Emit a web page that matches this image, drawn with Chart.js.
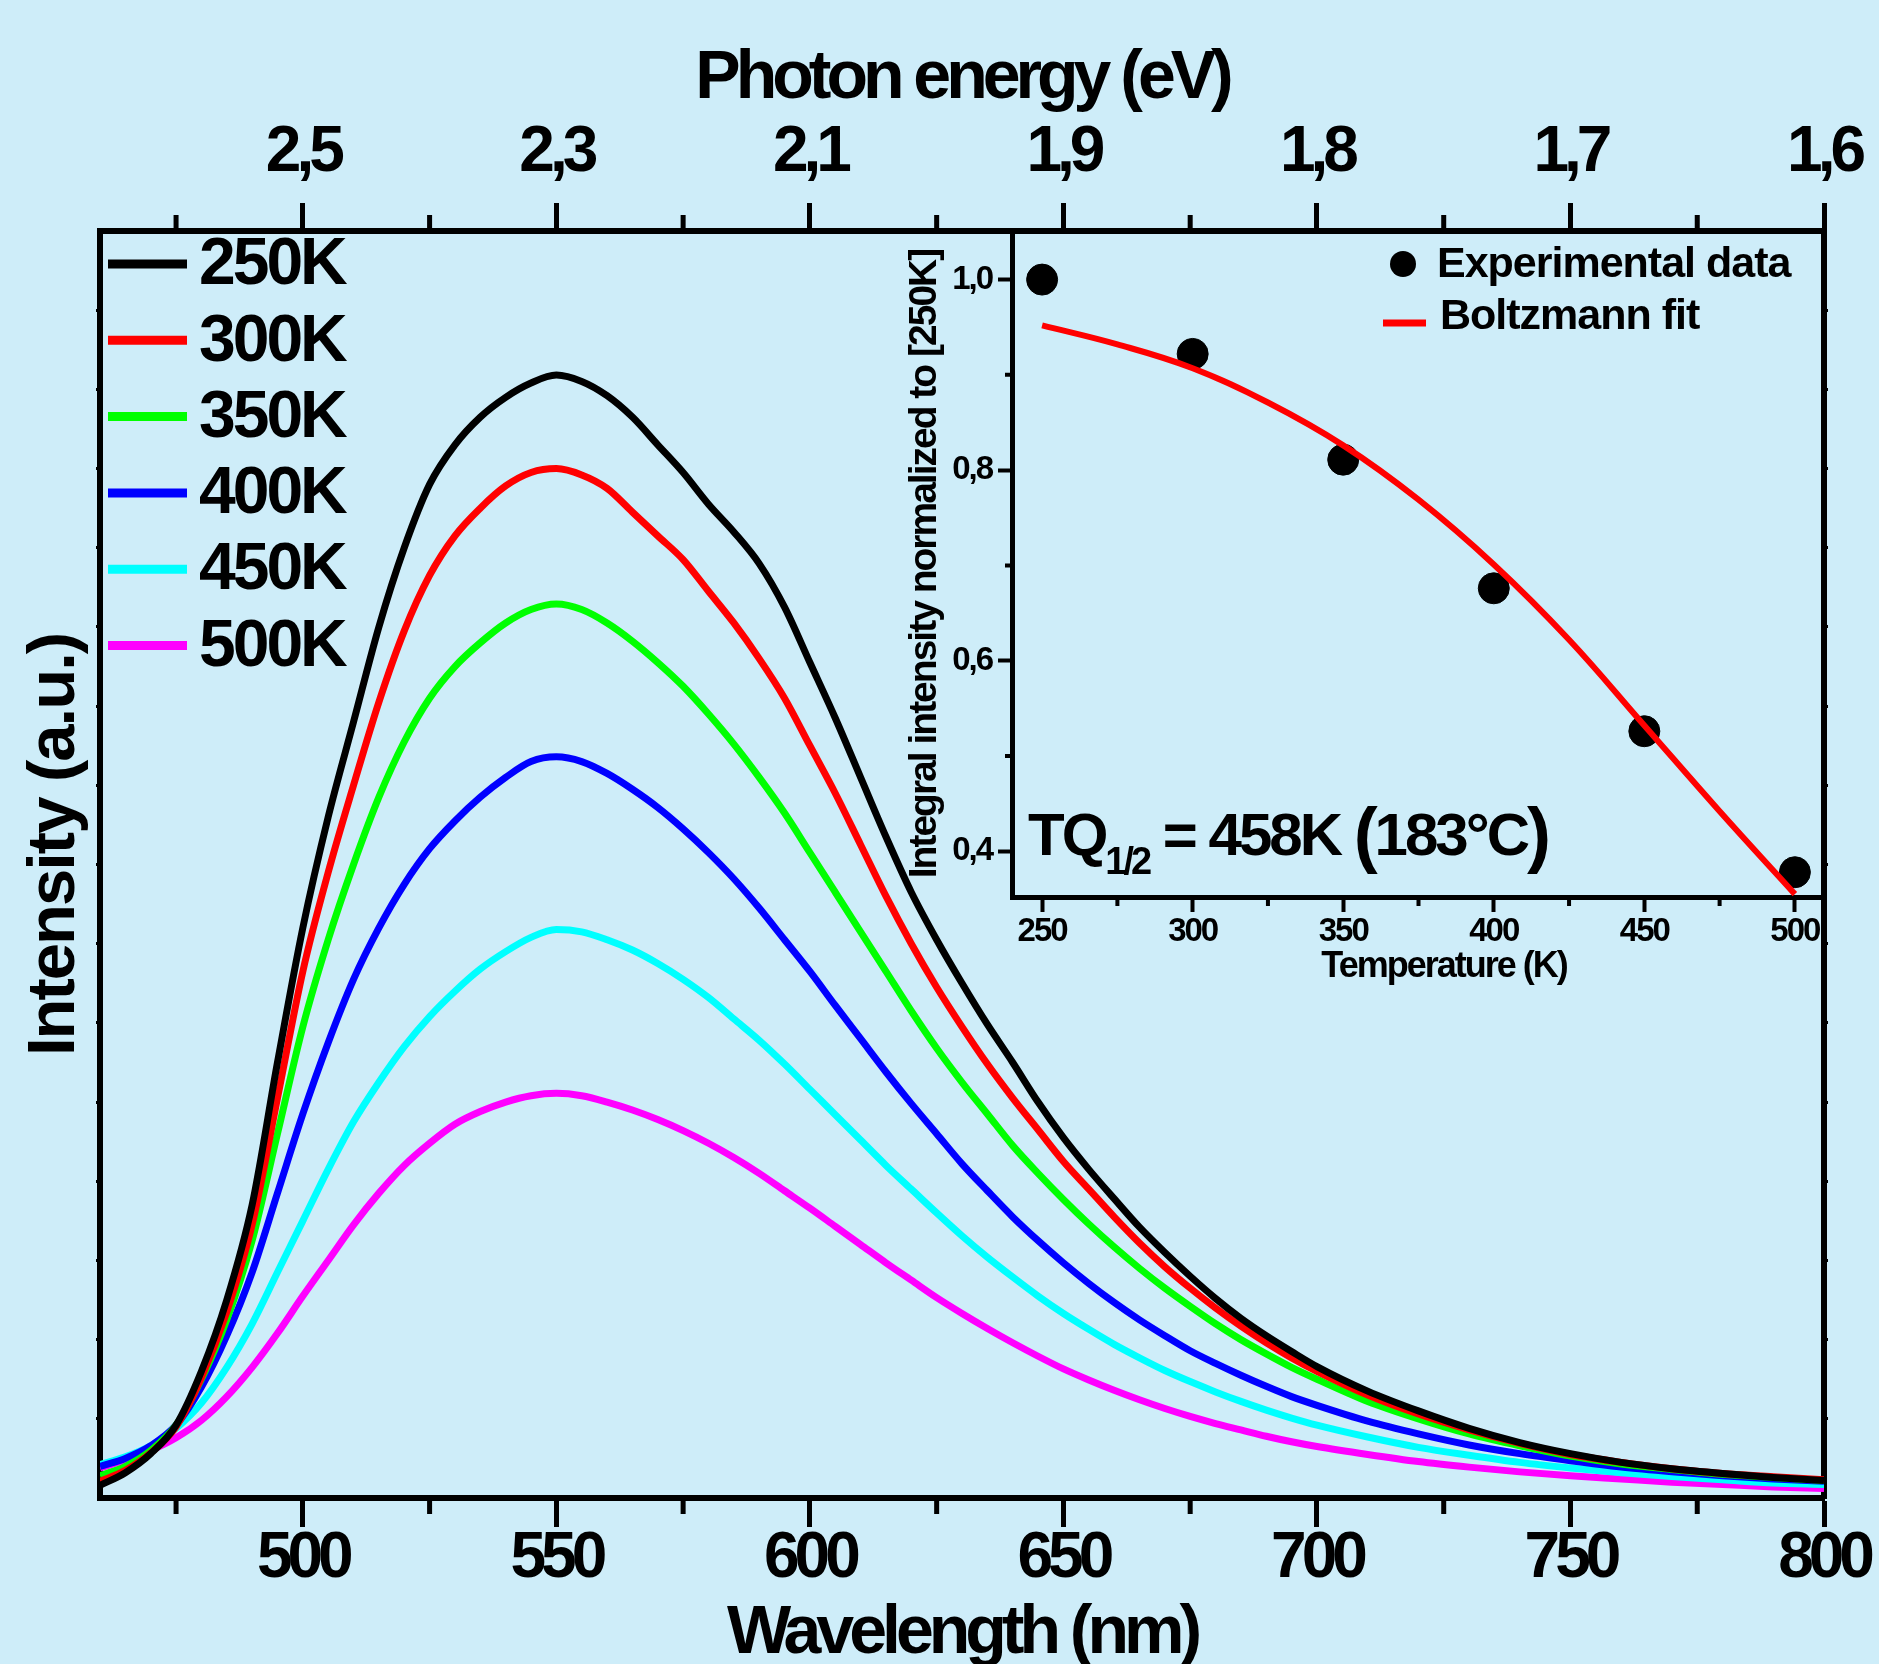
<!DOCTYPE html>
<html>
<head>
<meta charset="utf-8">
<script src="https://cdn.jsdelivr.net/npm/chart.js@4.4.1/dist/chart.umd.min.js"></script>
<style>
  body { margin: 0; background: #ceedf9; }
  #wrap { position: relative; width: 1879px; height: 1664px; }
  #main { position: absolute; left: 0; top: 0; }
  #inset { position: absolute; left: 880px; top: 200px; }
</style>
</head>
<body>
<div id="wrap">
  <canvas id="main" width="1879" height="1664"></canvas>
  <canvas id="inset" width="999" height="830"></canvas>
</div>
<script>
// wavelength grid (nm) of the spectra
const wavelengths = [460,465,470,475,480,485,490,495,500,505,510,515,520,525,530,535,540,545,550,
  555,560,565,570,575,580,585,590,595,600,605,610,615,620,625,630,635,640,645,650,
  655,660,665,670,675,680,685,690,695,700,710,720,730,740,750,760,770,780,790,800];

// intensity (a.u.) per temperature
const int250K = [0.16,0.32,0.56,0.92,1.60,2.50,3.70,5.50,7.20,
  8.60,9.80,11.00,12.00,12.80,13.30,13.65,13.90,14.08,14.18,
  14.10,13.92,13.65,13.30,12.95,12.55,12.20,11.80,11.25,10.55,
  9.85,9.10,8.35,7.65,7.05,6.50,5.98,5.50,5.00,4.55,
  4.15,3.78,3.42,3.10,2.80,2.52,2.27,2.05,1.85,1.66,
  1.35,1.10,0.88,0.70,0.56,0.45,0.37,0.31,0.26,0.22];
const int300K = [0.21,0.35,0.57,0.90,1.52,2.35,3.45,5.05,6.65,
  7.90,9.00,10.05,10.95,11.65,12.15,12.50,12.78,12.95,13.00,
  12.92,12.75,12.45,12.15,11.85,11.45,11.05,10.60,10.10,9.50,
  8.90,8.25,7.60,7.00,6.45,5.95,5.48,5.05,4.65,4.25,
  3.90,3.55,3.22,2.92,2.65,2.40,2.17,1.96,1.77,1.60,
  1.30,1.06,0.86,0.69,0.55,0.45,0.37,0.31,0.27,0.23];
const int350K = [0.28,0.40,0.60,0.92,1.50,2.25,3.25,4.60,5.95,
  7.05,8.00,8.85,9.55,10.10,10.50,10.80,11.05,11.22,11.29,
  11.22,11.05,10.82,10.55,10.25,9.90,9.52,9.10,8.65,8.15,
  7.65,7.15,6.65,6.15,5.68,5.25,4.85,4.45,4.10,3.77,
  3.46,3.17,2.90,2.65,2.42,2.20,2.00,1.82,1.65,1.50,
  1.22,1.00,0.81,0.66,0.53,0.43,0.36,0.30,0.26,0.22];
const int400K = [0.40,0.50,0.66,0.92,1.40,2.05,2.85,3.85,4.85,
  5.75,6.55,7.20,7.75,8.20,8.55,8.85,9.10,9.30,9.36,
  9.30,9.15,8.95,8.72,8.45,8.15,7.82,7.45,7.05,6.65,
  6.22,5.80,5.38,4.98,4.60,4.22,3.88,3.55,3.25,2.97,
  2.71,2.47,2.25,2.05,1.86,1.70,1.55,1.41,1.28,1.17,
  0.97,0.81,0.67,0.56,0.47,0.39,0.33,0.28,0.24,0.21];
const int450K = [0.42,0.52,0.66,0.88,1.20,1.65,2.20,2.85,3.50,
  4.15,4.75,5.25,5.70,6.08,6.40,6.68,6.90,7.08,7.18,
  7.15,7.05,6.92,6.75,6.55,6.32,6.05,5.78,5.48,5.16,
  4.84,4.52,4.20,3.90,3.60,3.31,3.04,2.79,2.55,2.33,
  2.13,1.94,1.77,1.61,1.47,1.34,1.22,1.11,1.01,0.92,
  0.77,0.64,0.54,0.45,0.38,0.32,0.27,0.23,0.19,0.17];
const int500K = [0.38,0.48,0.60,0.76,0.98,1.28,1.65,2.08,2.55,
  3.00,3.45,3.85,4.20,4.48,4.72,4.88,5.00,5.08,5.11,
  5.08,5.00,4.90,4.78,4.64,4.48,4.30,4.10,3.88,3.66,
  3.43,3.20,2.97,2.75,2.53,2.33,2.14,1.96,1.79,1.63,
  1.49,1.36,1.24,1.13,1.03,0.94,0.86,0.78,0.71,0.65,
  0.55,0.46,0.39,0.33,0.28,0.24,0.20,0.17,0.14,0.12];

const seriesLabels = ['250K', '300K', '350K', '400K', '450K', '500K'];
const seriesValues = [int250K, int300K, int350K, int400K, int450K, int500K];
const seriesColors = ['#000000', '#ff0000', '#00ff00', '#0000ff', '#00ffff', '#ff00ff'];

// axis ticks
const wlMajorTicks = [500, 550, 600, 650, 700, 750, 800];
const wlMinorTicks = [475, 525, 575, 625, 675, 725, 775];
const energyTickLabels = ['2,5', '2,3', '2,1', '1,9', '1,8', '1,7', '1,6'];
const intensityTicks = [1, 2, 3, 4, 5, 6, 7, 8, 9, 10, 11, 12, 13, 14, 15];

// inset: thermal quenching
const temperatures = [250, 300, 350, 400, 450, 500];
const normIntensity = [1.000, 0.922, 0.811, 0.676, 0.526, 0.378];
const fitTemperatures = [250, 275, 300, 325, 350, 375, 400, 425, 450, 475, 500];
const fitIntensity = [0.952, 0.932, 0.907, 0.871, 0.826, 0.769, 0.701, 0.622, 0.532, 0.442, 0.355];
const tempMajorTicks = [250, 300, 350, 400, 450, 500];
const tempMinorTicks = [275, 325, 375, 425, 475];
const normMajorTicks = [0.4, 0.6, 0.8, 1.0];
const normMinorTicks = [0.5, 0.7, 0.9];

const SANS = '"Liberation Sans", Arial, sans-serif';

function setTicks(values) {
  return scale => { scale.ticks = values.map(v => ({ value: v })); };
}
function commaLabel(v) {
  return v.toFixed(1).replace('.', ',');
}
// condensed look: tighten all text the chart draws
function tightText(spacing) {
  return {
    id: 'tightText',
    beforeLayout(chart) { chart.ctx.letterSpacing = spacing; },
    beforeDraw(chart) { chart.ctx.letterSpacing = spacing; }
  };
}

// minor tick marks drawn from the scales' own pixel mapping
function drawMinor(ctx, scale, values, len, width) {
  ctx.save();
  ctx.strokeStyle = '#000';
  ctx.lineWidth = width;
  ctx.beginPath();
  values.forEach(v => {
    if (scale.isHorizontal()) {
      const px = scale.getPixelForValue(v);
      if (scale.position === 'bottom') { ctx.moveTo(px, scale.top); ctx.lineTo(px, scale.top + len); }
      else { ctx.moveTo(px, scale.bottom); ctx.lineTo(px, scale.bottom - len); }
    } else {
      const py = scale.getPixelForValue(v);
      ctx.moveTo(scale.right, py); ctx.lineTo(scale.right - len, py);
    }
  });
  ctx.stroke();
  ctx.restore();
}

const mainDecor = {
  id: 'mainDecor',
  afterDraw(chart) {
    const ctx = chart.ctx;
    drawMinor(ctx, chart.scales.x, wlMinorTicks, 16, 5);
    drawMinor(ctx, chart.scales.x2, wlMinorTicks, 16, 5);
    ctx.save();
    ctx.fillStyle = '#000';
    // y axis title
    ctx.save();
    ctx.font = 'bold 67px ' + SANS;
    ctx.letterSpacing = '-2px';
    ctx.textAlign = 'center';
    ctx.textBaseline = 'alphabetic';
    ctx.translate(74, 845);
    ctx.rotate(-Math.PI / 2);
    ctx.fillText('Intensity (a.u.)', 0, 0);
    ctx.restore();
    // legend
    ctx.font = 'bold 66px ' + SANS;
    ctx.letterSpacing = '-3px';
    ctx.textBaseline = 'middle';
    ctx.textAlign = 'left';
    seriesLabels.forEach((lab, i) => {
      const y = 264 + i * 76.3;
      ctx.strokeStyle = seriesColors[i];
      ctx.lineWidth = 9;
      ctx.beginPath();
      ctx.moveTo(108, y);
      ctx.lineTo(187, y);
      ctx.stroke();
      ctx.fillText(lab, 199, y + 2);
    });
    ctx.restore();
  }
};

const tickFont = { family: SANS, weight: 'bold', size: 64, lineHeight: 1 };
const titleFont = { family: SANS, weight: 'bold', size: 68, lineHeight: 1 };

new Chart(document.getElementById('main'), {
  type: 'line',
  data: {
    datasets: seriesValues.map((vals, i) => ({
      label: seriesLabels[i],
      data: wavelengths.map((w, j) => ({ x: w, y: vals[j] })),
      borderColor: seriesColors[i],
      backgroundColor: seriesColors[i],
      borderWidth: 7,
      pointRadius: 0,
      cubicInterpolationMode: 'monotone',
      borderJoinStyle: 'round',
      fill: false
    }))
  },
  options: {
    responsive: false,
    animation: false,
    devicePixelRatio: 1,
    layout: { padding: 0 },
    plugins: { legend: { display: false }, tooltip: { enabled: false } },
    scales: {
      x: {
        type: 'linear', position: 'bottom', min: 460, max: 800,
        afterBuildTicks: setTicks(wlMajorTicks),
        afterFit: s => { s.height = 166; },
        border: { display: true, width: 6, color: '#000' },
        grid: { display: true, drawOnChartArea: false, tickLength: 29, tickWidth: 5, tickColor: '#000' },
        ticks: { color: '#000', font: tickFont, padding: 0, maxRotation: 0, autoSkip: false },
        title: { display: true, text: 'Wavelength (nm)', color: '#000', font: titleFont, padding: { top: 0, bottom: -4 } }
      },
      x2: {
        type: 'linear', position: 'top', min: 460, max: 800,
        afterBuildTicks: setTicks(wlMajorTicks),
        afterFit: s => { s.height = 231; },
        border: { display: true, width: 6, color: '#000' },
        grid: { display: true, drawOnChartArea: false, tickLength: 28, tickWidth: 5, tickColor: '#000' },
        ticks: {
          color: '#000', font: tickFont, padding: 18, maxRotation: 0, autoSkip: false,
          callback: v => energyTickLabels[wlMajorTicks.indexOf(v)]
        },
        title: { display: true, text: 'Photon energy (eV)', color: '#000', font: titleFont, padding: { top: 45, bottom: 0 } }
      },
      y: {
        type: 'linear', position: 'left', min: 0, max: 16,
        afterBuildTicks: setTicks(intensityTicks),
        afterFit: s => { s.width = 100; },
        border: { display: true, width: 6, color: '#000' },
        grid: { display: true, drawOnChartArea: false, tickLength: 4, tickWidth: 3, tickColor: '#000' },
        ticks: { display: false }
      },
      y2: {
        type: 'linear', position: 'right', min: 0, max: 16,
        afterBuildTicks: setTicks(intensityTicks),
        afterFit: s => { s.width = 54; },
        border: { display: true, width: 6, color: '#000' },
        grid: { display: true, drawOnChartArea: false, tickLength: 4, tickWidth: 3, tickColor: '#000' },
        ticks: { display: false }
      }
    }
  },
  plugins: [tightText('-5px'), mainDecor]
});

// ---------- inset ----------
const insetDecor = {
  id: 'insetDecor',
  afterDraw(chart) {
    const ctx = chart.ctx;
    drawMinor(ctx, chart.scales.x, tempMinorTicks, 9, 4);
    drawMinor(ctx, chart.scales.y, normMinorTicks, 7, 4);
    ctx.save();
    ctx.fillStyle = '#000';
    // x axis title
    ctx.font = 'bold 36px ' + SANS;
    ctx.letterSpacing = '-2px';
    ctx.textAlign = 'center';
    ctx.textBaseline = 'alphabetic';
    ctx.fillText('Temperature (K)', 564, 777);
    // legend
    ctx.textAlign = 'left';
    ctx.textBaseline = 'middle';
    ctx.font = 'bold 43px ' + SANS;
    ctx.letterSpacing = '-1px';
    ctx.beginPath();
    ctx.arc(523, 64, 13, 0, Math.PI * 2);
    ctx.fill();
    ctx.fillText('Experimental data', 557, 65);
    ctx.strokeStyle = '#ff0000';
    ctx.lineWidth = 7;
    ctx.beginPath();
    ctx.moveTo(503, 123);
    ctx.lineTo(546, 123);
    ctx.stroke();
    ctx.fillText('Boltzmann fit', 560, 117);
    // TQ annotation
    ctx.textBaseline = 'alphabetic';
    ctx.letterSpacing = '-3px';
    let x = 148;
    const base = 655;
    const put = (txt, size, dy) => {
      ctx.font = 'bold ' + size + 'px ' + SANS;
      ctx.fillText(txt, x, base + dy);
      x += ctx.measureText(txt).width;
    };
    put('TQ', 60, 0);
    put('1/2', 38, 19);
    put(' = 458K ', 60, 0);
    put('(', 72, 4);
    put('183°C', 60, 0);
    put(')', 72, 4);
    ctx.restore();
  }
};

const insetTick = { family: SANS, weight: 'bold', size: 33, lineHeight: 1 };
const insetTitle = { family: SANS, weight: 'bold', size: 39, lineHeight: 1 };

new Chart(document.getElementById('inset'), {
  type: 'scatter',
  data: {
    datasets: [
      {
        type: 'line',
        label: 'Boltzmann fit',
        data: fitTemperatures.map((t, i) => ({ x: t, y: fitIntensity[i] })),
        borderColor: '#ff0000',
        borderWidth: 6,
        pointRadius: 0,
        tension: 0.4,
        fill: false,
        order: 1
      },
      {
        type: 'scatter',
        label: 'Experimental data',
        data: temperatures.map((t, i) => ({ x: t, y: normIntensity[i] })),
        backgroundColor: '#000',
        borderColor: '#000',
        pointRadius: 15.5,
        order: 2
      }
    ]
  },
  options: {
    responsive: false,
    animation: false,
    devicePixelRatio: 1,
    layout: { padding: { top: 31, right: 54, left: 0, bottom: 0 } },
    plugins: { legend: { display: false }, tooltip: { enabled: false } },
    scales: {
      x: {
        type: 'linear', position: 'bottom', min: 240, max: 510,
        afterBuildTicks: setTicks(tempMajorTicks),
        afterFit: s => { s.height = 133; },
        border: { display: true, width: 5, color: '#000' },
        grid: { display: true, drawOnChartArea: false, tickLength: 15, tickWidth: 4, tickColor: '#000' },
        ticks: { color: '#000', font: insetTick, padding: 3, maxRotation: 0, autoSkip: false }
      },
      y: {
        type: 'linear', position: 'left', min: 0.352, max: 1.051,
        afterBuildTicks: setTicks(normMajorTicks),
        afterFit: s => { s.width = 132; },
        border: { display: true, width: 5, color: '#000' },
        grid: { display: true, drawOnChartArea: false, tickLength: 14, tickWidth: 4, tickColor: '#000' },
        ticks: { color: '#000', font: insetTick, padding: 6, callback: v => commaLabel(v) },
        title: { display: true, text: 'Integral intensity normalized to [250K]', color: '#000', font: insetTitle, padding: { top: 26, bottom: 0 } }
      }
    }
  },
  plugins: [tightText('-2px'), insetDecor]
});
</script>
</body>
</html>
